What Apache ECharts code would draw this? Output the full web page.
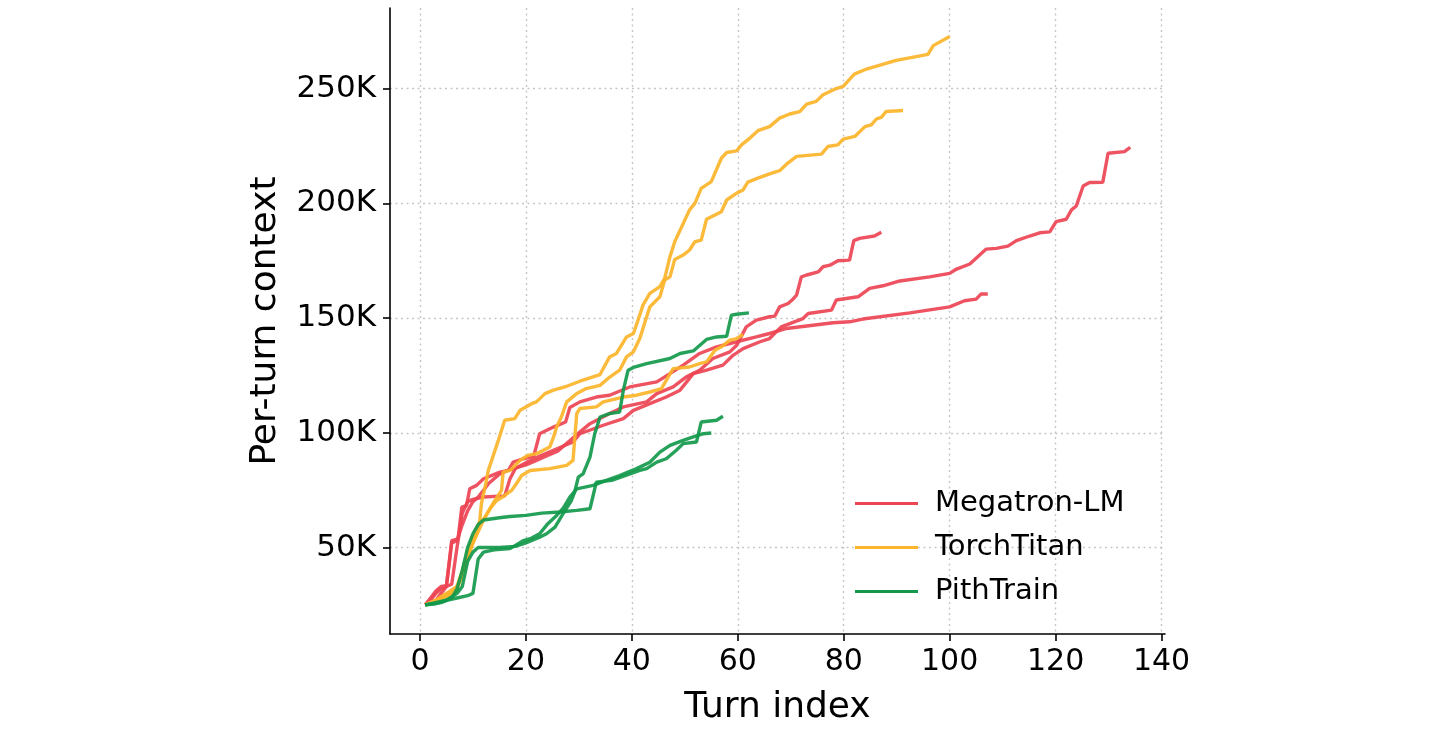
<!DOCTYPE html>
<html>
<head>
<meta charset="utf-8">
<title>Per-turn context</title>
<script src="https://cdn.jsdelivr.net/npm/echarts@6.0.0/dist/echarts.min.js"></script>
<style>
  html, body { margin: 0; padding: 0; background: #fff; }
  #chart { width: 1440px; height: 736px; }
</style>
</head>
<body>
<div id="chart"></div>
<script>
// [turn index, per-turn context in K tokens]
const megatron1 = [[1,25],[2,27],[3,30],[4,32],[5,33],[6,52],[7,53],[8,60],[9,66],[10,70],[11,72],[12,75],[13,78],[14,80],[15,82],[17,84],[20,86],[22,88],[24,90],[26,92],[28,96],[30,100],[32.1,104],[35.8,108.4],[38.4,111.3],[42.8,113.5],[44.7,117.1],[47.8,120],[50.3,124.4],[52.8,127.3],[55.3,132.4],[58.5,135.3],[59.8,138.2],[61.6,146.2],[63.5,149.1],[66,150.6],[67,150.9],[67.9,154.9],[69.5,156.4],[70.3,158],[71.1,160],[72,168],[73,168.8],[75.2,170.2],[76.1,172.4],[77.4,173.1],[78.9,175],[81.1,175.3],[81.9,183.8],[83,184.8],[85.8,185.8],[87.1,187.4]];
const megatron2 = [[1,25],[2,28],[3,31],[4,33],[5,33.4],[6,53],[7.2,53.8],[7.9,67.6],[8.8,68.3],[9.4,75.6],[10.7,77.1],[12,80],[15.1,82.9],[16.7,83.6],[17.6,87.2],[19.5,88.7],[21.5,90],[22.6,99.6],[25.2,102.5],[27.5,104.7],[28.3,111],[30.2,113.5],[33.3,115.6],[35.8,116.4],[39.6,120],[44.7,122.2],[47.2,125.8],[49.7,129.5],[52.8,134.6],[56,137.5],[59.8,139.7],[63.5,141.8],[66,143.3],[69.2,145.5],[78,148],[81.1,148.4],[83.6,149.6],[92.5,152.3],[100,154.9],[102.8,157.6],[105,158.3],[105.9,160.5],[107.2,160.5]];
const megatron3 = [[1,25],[3,27],[4,30],[5,33],[6,34],[7,50],[8,65],[9,70],[10,71],[12,72],[16,72.5],[17,80],[18,84.4],[21.4,88.7],[25.2,92.4],[28.9,96],[30.2,99.6],[34.6,103.3],[38.4,106.2],[40.3,109.8],[43.4,112.7],[46.5,115.6],[49.1,118.6],[51.6,125.8],[54.1,127.3],[57.2,129.5],[59.1,133.8],[61,136.7],[64.2,139.7],[66,141.1],[68.2,146.2],[72.3,149.8],[73.3,152],[77.7,153.5],[78.6,157.9],[82.7,159.3],[84.9,163],[87.4,164.1],[90.6,166.2],[96.2,168],[100,169.5],[101.3,171.4],[103.8,173.6],[106.9,180.1],[108.8,180.4],[111,181.4],[112.6,183.8],[115.1,185.8],[117,187.2],[118.9,187.6],[120.1,192.1],[122,193.1],[123,197.2],[123.9,198.9],[125.2,207.6],[126.4,209.1],[128.9,209.2],[129.9,221.9],[133,222.6],[134.1,224.5]];

const titan1 = [[1,25],[3,27],[4.1,28.3],[6.6,31.2],[7.5,35.6],[8.5,43.6],[9.8,50.9],[10.7,56],[11.3,61.8],[11.6,69],[12.3,76.3],[12.9,83.6],[14.8,96.7],[16,105.5],[17.9,106.2],[18.9,109.8],[21.1,112.7],[22,113.5],[23.6,117.1],[25.2,118.6],[27.7,120.3],[30.2,122.5],[34,125.4],[35.8,133.1],[37.1,134.6],[39,141.8],[40.3,143.3],[41.5,151.3],[42.1,155.7],[43.4,160.8],[45.3,163.7],[46.2,167.3],[47.2,176.8],[48.1,183.3],[50.9,197.2],[51.9,200],[53.1,206.6],[55,209.5],[56.9,219.7],[57.9,222.2],[59.8,222.9],[60.7,225.5],[62.3,228.5],[63.8,231.7],[66,233.5],[67.9,237.2],[69.8,239],[71.7,240],[73,243.3],[74.8,244.5],[76.1,247.4],[78.3,249.8],[79.9,251],[82,256.4],[84.3,258.6],[89.9,262.4],[95.9,265],[96.9,268.8],[100,272.8]];
const titan2 = [[1,25],[3,26],[5,28],[7,32],[8,38],[9,45],[10,52],[11,57],[12,62],[13,66],[14,70],[15.4,74.9],[15.7,82.9],[17,83.6],[18.9,88],[20.4,90.2],[22,90.9],[24.5,93.8],[25.2,98],[25.8,102.5],[26.7,106.9],[27.7,113.5],[29.6,117.1],[31.4,119.3],[34,120.7],[35.5,123.7],[37.7,127.3],[39,133.1],[40.3,135.3],[41.5,141.1],[42.8,150.6],[43.4,154.9],[45.3,159.3],[46.2,166.6],[47.2,168],[48.1,175.6],[49.7,177.5],[50.9,179.7],[51.9,183.3],[53.1,184],[54.1,193.1],[56.9,196.4],[57.9,201.5],[59.8,204.5],[61,205.9],[61.9,209.3],[63.8,211],[66,212.9],[67.9,214.3],[69.2,217.1],[71.1,220.5],[75.8,221.5],[77,224.8],[78.9,225.5],[79.9,228],[82.1,229.2],[84,233.5],[85.2,234.3],[86.2,236.9],[87.1,237.5],[88,240.1],[91.2,240.5]];
const titan3 = [[1,25],[3,27],[5,30],[7,33],[8,40],[9,48],[10,55],[11,60],[12.3,63.2],[13.2,66.9],[14.5,70.5],[16,72.7],[17.3,74.9],[18.2,77.8],[19.2,81.4],[20.8,83.6],[24.5,84.4],[27.7,85.8],[28.9,88],[29.6,108.4],[30.2,110.6],[33.3,111.3],[34.6,113.5],[38.4,115.6],[40.9,116.4],[43.4,117.8],[45.6,119.3],[46.5,122.9],[47.8,128],[50.9,128.7],[52.8,130.2],[54.1,130.9],[55.7,136],[56.9,137.5],[58.5,140.4],[59.8,141.1],[61,142.9]];

const pith1 = [[1,25],[3,25.5],[5,27],[7,30],[8,33],[9,44],[10,48],[11,50],[15,50],[18,50.5],[20,52],[22.6,54.5],[23.9,56],[25.5,58.9],[27,64.7],[28.6,70.5],[29.2,74.1],[29.9,80.7],[30.8,82.1],[32.1,89.4],[33,99.6],[34,106.9],[35.8,108.4],[37.7,109.1],[38.4,118.6],[39.3,127.3],[40.3,128.5],[42.8,130.2],[47.2,132.4],[49.1,134.6],[51.6,135.7],[54.1,140.7],[56,141.8],[57.9,142.1],[58.8,151.3],[59.8,151.7],[62.1,152.3]];
const pith2 = [[1,25],[4,26],[6,28],[7,32],[8,40],[9,50],[10,56],[11,60],[12,62],[15,63],[17,63.5],[20,64],[23,65],[26.4,65.5],[29.6,66.2],[32.1,66.9],[33.3,78.5],[36.2,79.3],[41.5,83.6],[42.8,84.4],[44.7,87.2],[46.5,88.7],[48.4,92.4],[49.7,95.3],[52.2,96],[53.1,104.7],[56,105.5],[57.2,107.2]];
const pith3 = [[1,25],[5,27],[7,28],[9,29],[10,30],[11,45],[12,48],[14,49],[17,49.5],[19.5,53],[21,54],[22.6,56],[24,60],[25.8,64],[27,67],[28.3,72],[29.6,75.6],[32.7,77.1],[35.2,79.3],[37.7,81.4],[40.9,84.4],[43.4,87.2],[45.3,91.6],[47.2,94.5],[49.7,96.7],[51.6,98.2],[53.5,99.6],[55,99.9]];

const xTicks = [0, 20, 40, 60, 80, 100, 120, 140];
const yTicks = [50, 100, 150, 200, 250];

const FONT = 'DejaVu Sans';
const colors = {
  'Megatron-LM': '#ED4454',
  'TorchTitan': '#FCB42A',
  'PithTrain': '#14994C'
};

const runs = [
  ['Megatron-LM', megatron1], ['Megatron-LM', megatron2], ['Megatron-LM', megatron3],
  ['TorchTitan', titan1], ['TorchTitan', titan2], ['TorchTitan', titan3],
  ['PithTrain', pith1], ['PithTrain', pith2], ['PithTrain', pith3]
];

const chart = echarts.init(document.getElementById('chart'));

const gridLine = {
  show: true,
  lineStyle: { color: '#c6c6c6', width: 1.4, type: [2, 3.5] }
};

const option = {
  animation: false,
  backgroundColor: '#fff',
  textStyle: { fontFamily: FONT },
  grid: { left: 390, right: 275, top: 8, bottom: 102 },
  legend: {
    data: ['Megatron-LM', 'TorchTitan', 'PithTrain'].map(n => ({ name: n, icon: 'rect' })),
    orient: 'vertical',
    left: 850,
    top: 484,
    itemWidth: 63,
    itemHeight: 3,
    itemGap: 15,
    textStyle: { fontFamily: FONT, fontSize: 29, color: '#000', padding: [0, 0, 0, 12] }
  },
  xAxis: {
    type: 'value',
    min: -5.65,
    max: 140.65,
    name: 'Turn index',
    nameLocation: 'middle',
    nameGap: 56,
    nameTextStyle: { fontFamily: FONT, fontSize: 36, color: '#000' },
    axisLine: { show: true, onZero: false, lineStyle: { color: '#000', width: 1.6 } },
    axisTick: { show: true, length: 7, lineStyle: { color: '#000', width: 1.6 }, customValues: xTicks },
    axisLabel: { fontFamily: FONT, fontSize: 30, color: '#000', margin: 13, customValues: xTicks },
    splitLine: gridLine
  },
  yAxis: {
    type: 'value',
    min: 12.3,
    max: 285.2,
    name: 'Per-turn context',
    nameLocation: 'middle',
    nameGap: 106,
    nameTextStyle: { fontFamily: FONT, fontSize: 36, color: '#000' },
    axisLine: { show: true, onZero: false, lineStyle: { color: '#000', width: 1.6 } },
    axisTick: { show: true, length: 7, lineStyle: { color: '#000', width: 1.6 }, customValues: yTicks },
    axisLabel: {
      fontFamily: FONT, fontSize: 31, color: '#000', margin: 14,
      customValues: yTicks,
      formatter: v => v + 'K'
    },
    splitLine: gridLine
  },
  series: runs.map(([name, pts]) => ({
    name: name,
    type: 'line',
    data: pts,
    symbol: 'none',
    color: colors[name],
    lineStyle: { width: 3.4, color: colors[name], opacity: 0.92 },
    emphasis: { disabled: true }
  }))
};

chart.setOption(option);
</script>
</body>
</html>
